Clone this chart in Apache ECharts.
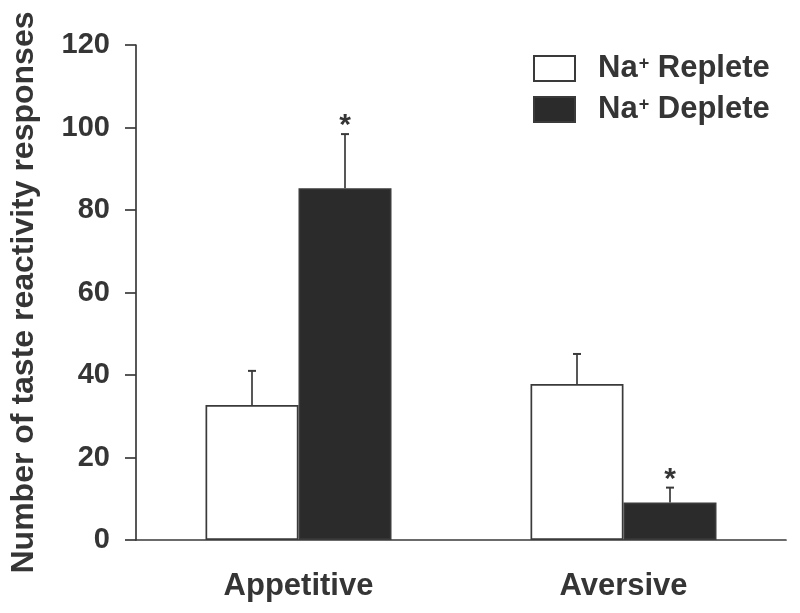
<!DOCTYPE html>
<html>
<head>
<meta charset="utf-8">
<script src="https://cdn.jsdelivr.net/npm/echarts@6/dist/echarts.min.js"></script>
<style>html,body{margin:0;padding:0;background:#fff}#c{width:800px;height:613px}</style>
</head>
<body>
<div id="c"></div>
<script>
const categories = ['Appetitive', 'Aversive'];
const repleteValues = [32.7, 37.8];
const repleteErrors = [8.3, 7.3];
const depleteValues = [85.3, 9.1];
const depleteErrors = [13.1, 3.6];
const depleteStars = ['*', '*'];
const repleteStars = ['', ''];
const yTicks = [0, 20, 40, 60, 80, 100, 120];

const TXT = '#353535';
const FONT = 'Liberation Sans, Arial, Helvetica, sans-serif';
const BAR_W = 93;

function errData(vals, errs, side) {
  return vals.map((v, i) => [i, v, errs[i], side]);
}

function renderErr(params, api) {
  const cat = api.value(0), val = api.value(1), err = api.value(2), side = api.value(3);
  const star = side > 0 ? depleteStars[cat] : repleteStars[cat];
  const base = api.coord([cat, val]);
  const top = api.coord([cat, val + err]);
  const x = base[0] + side * BAR_W / 2;
  const children = [
    {type: 'line', shape: {x1: x, y1: base[1], x2: x, y2: top[1]}, style: {stroke: '#3a3a3a', lineWidth: 1.7}},
    {type: 'line', shape: {x1: x - 4, y1: top[1], x2: x + 4, y2: top[1]}, style: {stroke: '#3a3a3a', lineWidth: 2}}
  ];
  if (star) {
    children.push({type: 'text', x: x, y: top[1] + 7, style: {text: star, fill: TXT, font: 'bold 30px ' + FONT, textAlign: 'center', textVerticalAlign: 'bottom'}});
  }
  return {type: 'group', children: children};
}

const chart = echarts.init(document.getElementById('c'), null, {renderer: 'canvas'});
chart.setOption({
  animation: false,
  backgroundColor: '#ffffff',
  grid: {left: 135, right: 14, top: 45, bottom: 73},
  legend: {
    orient: 'vertical',
    left: 528, top: 48,
    itemWidth: 41, itemHeight: 25, itemGap: 10,
    icon: 'rect',
    data: ['Replete', 'Deplete'],
    formatter: function (name) { return '{n|Na}{s|+}{n| ' + name + '}'; },
    textStyle: {
      padding: [0, 0, 0, 18],
      color: TXT,
      rich: {
        n: {fontSize: 31, fontWeight: 'bold', fontFamily: FONT, color: TXT, lineHeight: 26},
        s: {fontSize: 18, fontWeight: 'bold', fontFamily: FONT, color: TXT, lineHeight: 26, verticalAlign: 'top', padding: [0, 0, 8, 1]}
      }
    }
  },
  xAxis: {
    type: 'category',
    data: categories,
    boundaryGap: true,
    axisLine: {lineStyle: {color: '#3a3a3a', width: 1.7}},
    axisTick: {show: false},
    axisLabel: {color: TXT, fontSize: 31, fontWeight: 'bold', fontFamily: FONT, margin: 31}
  },
  yAxis: {
    type: 'value',
    min: 0, max: 120, interval: 20,
    name: 'Number of taste reactivity responses',
    nameLocation: 'middle',
    nameGap: 96,
    nameTextStyle: {color: TXT, fontSize: 32, fontWeight: 'bold', fontFamily: FONT},
    axisLine: {show: true, lineStyle: {color: '#3a3a3a', width: 1.7}},
    axisTick: {show: true, length: 11, lineStyle: {color: '#3a3a3a', width: 1.7}},
    splitLine: {show: false},
    axisLabel: {color: TXT, fontSize: 29, fontWeight: 'bold', fontFamily: FONT, margin: 26,
      formatter: function (v) { return yTicks.indexOf(v) >= 0 ? String(v) : ''; }}
  },
  series: [
    {
      name: 'Replete', type: 'bar', data: repleteValues, barWidth: BAR_W, barGap: '0%',
      itemStyle: {color: '#ffffff', borderColor: '#3a3a3a', borderWidth: 1.7}
    },
    {
      name: 'Deplete', type: 'bar', data: depleteValues, barWidth: BAR_W, barGap: '0%',
      itemStyle: {color: '#2b2b2b', borderColor: '#3a3a3a', borderWidth: 1.7}
    },
    {
      type: 'custom', renderItem: renderErr, z: 5,
      data: errData(repleteValues, repleteErrors, -1)
    },
    {
      type: 'custom', renderItem: renderErr, z: 5,
      data: errData(depleteValues, depleteErrors, 1)
    }
  ]
});
</script>
</body>
</html>
